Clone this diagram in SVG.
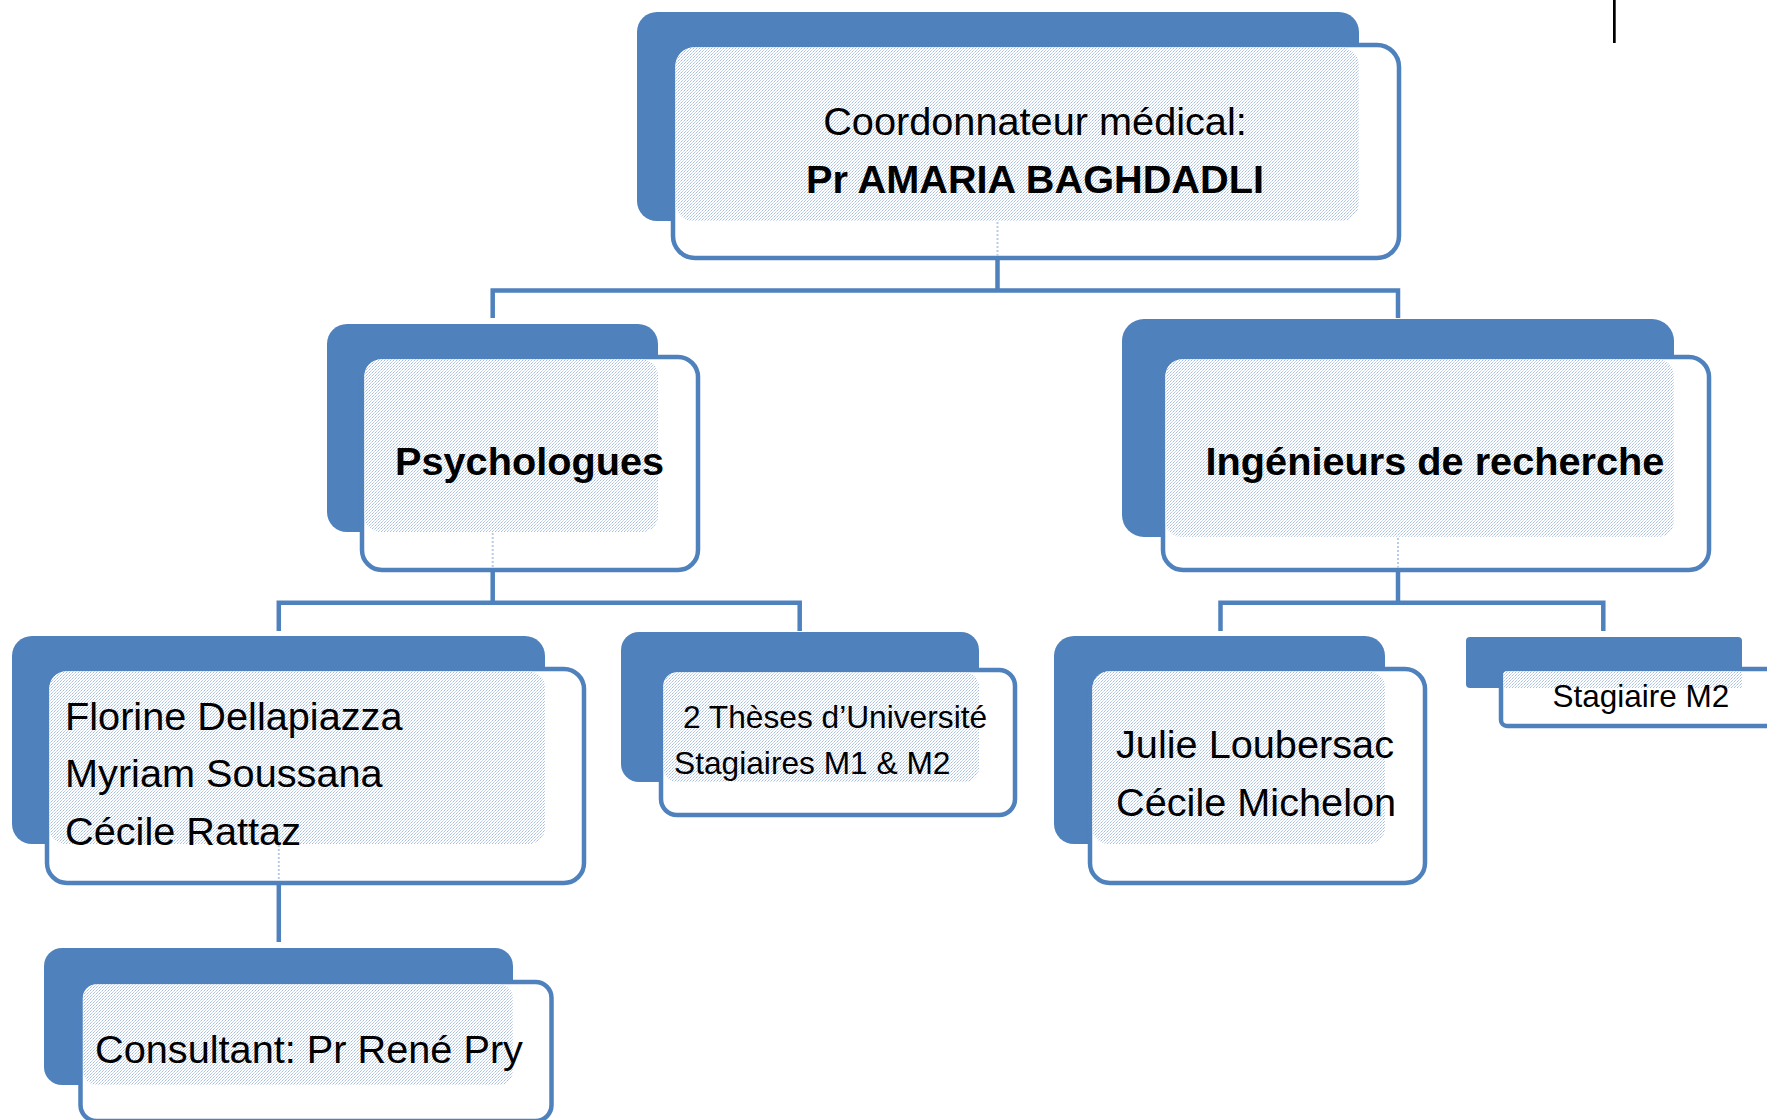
<svg xmlns="http://www.w3.org/2000/svg" width="1767" height="1120" viewBox="0 0 1767 1120">
  <defs>
    <pattern id="dots" x="0" y="0" width="3" height="3" patternUnits="userSpaceOnUse">
      <rect x="0" y="0" width="3" height="3" fill="#ffffff"/>
      <rect x="0" y="0" width="1" height="1" fill="#a3bbdf"/>
      <rect x="2" y="1" width="1" height="1" fill="#ccd9ee"/>
      <rect x="1" y="2" width="1" height="1" fill="#b8cbe7"/>
    </pattern>
  </defs>
  <style>
    .back { fill: #4f81bd; }
    .front { fill: #ffffff; stroke: #4f81bd; stroke-width: 4.5; }
    .tex { fill: url(#dots); }
    .conn { fill: none; stroke: #4f81bd; stroke-width: 4.5; }
    .ghost { fill: none; stroke: #b9cbe6; stroke-width: 2; stroke-dasharray: 2 2; }
    .t { font-family: "Liberation Sans", Arial, sans-serif; fill: #000000; }
    .big { font-size: 39.7px; }
    .small { font-size: 31.7px; }
    .b { font-weight: bold; }
  </style>

  <g id="connectors">
    <polyline class="conn" points="997.5,259 997.5,290.5"/>
    <polyline class="conn" points="492.7,318 492.7,290.5 1398,290.5 1398,318"/>
    <polyline class="conn" points="492.7,571 492.7,602.7"/>
    <polyline class="conn" points="278.8,631 278.8,602.7 799.7,602.7 799.7,631"/>
    <polyline class="conn" points="1398,571 1398,602.7"/>
    <polyline class="conn" points="1220.5,631 1220.5,602.7 1603.3,602.7 1603.3,631"/>
    <polyline class="conn" points="278.8,884 278.8,942"/>
  </g>

  <g id="node-coordonnateur">
    <rect class="back" x="637" y="12" width="722" height="209" rx="20"/>
    <rect class="front" x="673" y="45" width="726" height="213" rx="22"/>
    <rect class="tex" x="675.5" y="47.5" width="683.5" height="173.5" rx="18"/>
    <line class="ghost" x1="997.5" y1="222" x2="997.5" y2="256"/>
    <text class="t big" x="1035" y="135" text-anchor="middle">Coordonnateur médical:</text>
    <text class="t big b" x="1035" y="193" text-anchor="middle">Pr AMARIA BAGHDADLI</text>
  </g>

  <g id="node-psychologues">
    <rect class="back" x="327" y="324" width="331" height="208" rx="20"/>
    <rect class="front" x="362" y="357" width="336" height="213" rx="20"/>
    <rect class="tex" x="364.5" y="359.5" width="293.5" height="172.5" rx="16"/>
    <line class="ghost" x1="492.7" y1="533" x2="492.7" y2="568"/>
    <text class="t big b" x="529.5" y="475" text-anchor="middle">Psychologues</text>
  </g>

  <g id="node-ingenieurs">
    <rect class="back" x="1122" y="319" width="552" height="218" rx="22"/>
    <rect class="front" x="1163" y="357" width="546" height="213" rx="20"/>
    <rect class="tex" x="1165.5" y="359.5" width="508.5" height="177.5" rx="16"/>
    <line class="ghost" x1="1398" y1="538" x2="1398" y2="568"/>
    <text class="t big b" x="1435" y="475" text-anchor="middle">Ingénieurs de recherche</text>
  </g>

  <g id="node-psychologues-noms">
    <rect class="back" x="12" y="636" width="533" height="208" rx="20"/>
    <rect class="front" x="47" y="669" width="537" height="214" rx="20"/>
    <rect class="tex" x="49.5" y="671.5" width="495.5" height="172.5" rx="16"/>
    <line class="ghost" x1="278.8" y1="845" x2="278.8" y2="881"/>
    <text class="t big" x="65" y="730">Florine Dellapiazza</text>
    <text class="t big" x="65" y="787">Myriam Soussana</text>
    <text class="t big" x="65" y="845">Cécile Rattaz</text>
  </g>

  <g id="node-theses">
    <rect class="back" x="621" y="632" width="358" height="150" rx="18"/>
    <rect class="front" x="661" y="670" width="354" height="145" rx="16"/>
    <rect class="tex" x="663.5" y="672.5" width="315.5" height="109.5" rx="14"/>
    <text class="t small" x="683" y="728">2 Thèses d’Université</text>
    <text class="t small" x="674" y="774">Stagiaires M1 &amp; M2</text>
  </g>

  <g id="node-ingenieurs-noms">
    <rect class="back" x="1054" y="636" width="331" height="208" rx="20"/>
    <rect class="front" x="1090" y="669" width="335" height="214" rx="20"/>
    <rect class="tex" x="1092.5" y="671.5" width="292.5" height="172.5" rx="16"/>
    <text class="t big" x="1116" y="758">Julie Loubersac</text>
    <text class="t big" x="1116" y="816">Cécile Michelon</text>
  </g>

  <g id="node-stagiaire-m2">
    <rect class="back" x="1466" y="637" width="276" height="51" rx="4"/>
    <rect class="front" x="1501" y="669" width="300" height="57" rx="6"/>
    <rect class="tex" x="1503.5" y="671.5" width="238.5" height="16.5" rx="2"/>
    <text class="t small" x="1552.5" y="707" style="font-size:31.5px">Stagiaire M2</text>
  </g>

  <g id="node-consultant">
    <rect class="back" x="44" y="948" width="469" height="137" rx="18"/>
    <rect class="front" x="80.5" y="982" width="471" height="139" rx="16"/>
    <rect class="tex" x="83" y="984.5" width="430" height="100.5" rx="14"/>
    <text class="t big" x="95" y="1063">Consultant: Pr René Pry</text>
  </g>

  <rect x="1613" y="0" width="2.7" height="43" fill="#000000"/>
</svg>
